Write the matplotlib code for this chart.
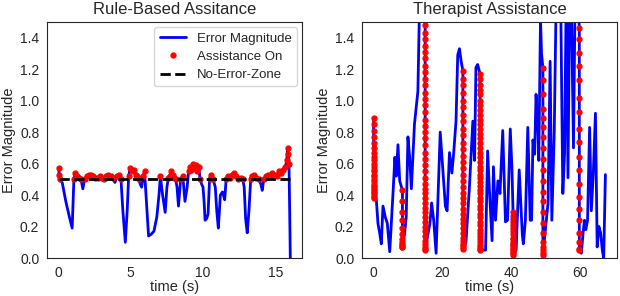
import matplotlib
matplotlib.use("Agg")
import matplotlib.pyplot as plt
import seaborn as sns
import numpy as np

# ---- Rule-based assistance (left) ----
t_rule = [0.0, 0.05, 0.1, 0.25, 0.5, 0.75, 0.94, 1.0, 1.06,
          1.15, 1.25, 1.4, 1.55, 1.68, 1.8, 1.95, 2.1, 2.25, 2.4, 2.55, 2.7, 2.85, 3.0,
          3.15, 3.3, 3.45, 3.6, 3.75, 3.9, 4.05, 4.2, 4.32,
          4.45, 4.62, 4.75, 4.85,
          4.95, 5.05, 5.15, 5.25, 5.35, 5.45, 5.55, 5.65, 5.75, 5.85, 5.95,
          6.05, 6.23, 6.4, 6.6, 6.8, 6.95, 7.05, 7.2, 7.38, 7.5, 7.6,
          7.7, 7.8, 7.9, 8.0, 8.1, 8.2, 8.3, 8.45, 8.6, 8.75, 8.9, 9.0, 9.1, 9.2,
          9.3, 9.4, 9.5, 9.6, 9.7, 9.8, 9.9, 10.0,
          10.08, 10.14, 10.25, 10.35, 10.45, 10.55, 10.7, 10.85, 10.95, 11.06, 11.2,
          11.35, 11.5, 11.6,
          11.7, 11.85, 12.0, 12.15, 12.3, 12.45, 12.6, 12.75, 12.85, 12.95, 13.06,
          13.18, 13.3,
          13.4, 13.55, 13.7, 13.85, 14.0, 14.1, 14.2, 14.35, 14.5, 14.65, 14.8, 14.95,
          15.1, 15.25, 15.4, 15.55, 15.7, 15.8, 15.85, 15.9, 15.95, 16.0, 16.05]
err_rule = [0.57, 0.53, 0.50, 0.48, 0.36, 0.26, 0.19, 0.35, 0.50,
            0.54, 0.52, 0.51, 0.50, 0.44, 0.50, 0.52, 0.53, 0.53, 0.52, 0.51, 0.51, 0.52, 0.51,
            0.50, 0.52, 0.53, 0.52, 0.51, 0.48, 0.52, 0.53, 0.50,
            0.30, 0.10, 0.30, 0.52,
            0.57, 0.56, 0.55, 0.56, 0.53, 0.52, 0.50, 0.47, 0.45, 0.52, 0.55,
            0.40, 0.14, 0.15, 0.17, 0.26, 0.40, 0.52, 0.40, 0.29, 0.45, 0.51,
            0.52, 0.55, 0.53, 0.51, 0.50, 0.45, 0.33, 0.50, 0.52, 0.36, 0.45, 0.55, 0.58, 0.56,
            0.60, 0.57, 0.59, 0.55, 0.58, 0.50, 0.47, 0.45,
            0.35, 0.24, 0.25, 0.28, 0.50, 0.53, 0.50, 0.45, 0.30, 0.19, 0.40,
            0.42, 0.37, 0.50,
            0.52, 0.51, 0.53, 0.54, 0.52, 0.50, 0.51, 0.50, 0.45, 0.25, 0.16,
            0.30, 0.50,
            0.52, 0.53, 0.51, 0.50, 0.47, 0.43, 0.50, 0.52, 0.53, 0.52, 0.54, 0.53,
            0.52, 0.55, 0.54, 0.56, 0.58, 0.62, 0.70, 0.66, 0.60, 0.30, -0.05]
no_error_level = 0.5

# ---- Therapist assistance (right) ----
t_ther = [0.0, 0.0, 0.8, 1.27, 1.76, 2.25, 2.73, 3.4, 4.0, 4.7, 5.7, 6.2, 6.6, 7.1, 7.6,
          8.4, 8.4, 9.0, 9.5, 10.0, 10.5, 11.0, 11.9, 12.9, 13.5, 14.2,
          15.0, 15.0, 16.4, 16.9, 17.5, 18.2, 19.4, 20.1, 20.9, 21.4, 22.1, 22.8, 23.3,
          24.0, 24.5, 25.0, 25.5,
          26.0, 26.0, 26.9, 27.9, 28.9, 29.4, 29.8, 30.3,
          31.0, 31.0, 32.6, 33.2, 33.8, 34.5, 34.9, 35.5, 36.2, 36.8, 37.6, 38.4, 39.0,
          39.8, 40.3,
          40.6, 40.6, 41.5, 42.4, 43.3, 43.6, 44.2, 44.9, 45.6, 46.0, 46.4, 46.9, 47.3,
          47.8, 48.1, 48.6, 48.9,
          49.3, 49.3, 50.3, 50.8, 51.4, 51.9, 52.6, 53.2, 53.8, 54.5, 55.1, 55.6, 56.1,
          56.6, 57.1, 57.6, 58.2, 58.7, 59.4,
          59.9, 59.9, 60.5, 61.0, 61.4, 61.8, 62.3, 62.9, 63.4, 64.0, 64.6, 65.1, 65.6,
          66.1, 66.6, 67.0, 67.5]
err_ther = [0.89, 0.38, 0.37, 0.22, 0.16, 0.09, 0.33, 0.26, 0.22, 0.04, 0.43, 0.64, 0.52, 0.72, 0.49,
            0.43, 0.07, 0.15, 0.26, 0.77, 0.64, 0.44, 0.85, 1.06, 1.75, 1.70,
            1.52, 0.05, 0.22, 0.35, 0.24, 0.03, 0.80, 0.58, 0.33, 0.30, 0.67, 0.54, 0.66,
            0.87, 1.29, 1.33, 1.25,
            1.19, 0.06, 0.10, 0.45, 0.87, 0.62, 1.21, 1.23,
            1.17, 0.05, 0.05, 0.68, 0.40, 0.11, 0.58, 0.24, 0.49, 0.41, 0.81, 0.23, 0.24,
            0.82, 0.56,
            0.29, 0.02, 0.05, 0.56, 0.15, 0.09, 0.24, 0.83, 0.24, 0.24, 0.75, 0.66, 1.04,
            0.87, 0.62, 1.52, 1.30,
            1.21, 0.02, 0.24, 0.35, 1.25, 0.24, 0.80, 1.70, 1.90, 1.60, 0.41, 0.66, 1.70,
            0.51, 1.70, 1.60, 0.70, 1.70, 1.70,
            1.46, 0.05, 0.03, 0.16, 0.24, 0.18, 0.24, 0.83, 0.30, 0.55, 0.92, 0.07, 0.20,
            0.16, 0.05, 0.00, 0.53]

# assistance-on samples, one column per therapist intervention
on_times = [0.0, 8.4, 15.0, 26.0, 31.0, 40.6, 49.3, 59.9]
on_errs = [
    [0.89, 0.85, 0.81, 0.77, 0.73, 0.70, 0.67, 0.64, 0.62, 0.60, 0.58, 0.56, 0.55, 0.53,
     0.52, 0.50, 0.49, 0.47, 0.46, 0.45, 0.44, 0.43, 0.42, 0.41, 0.40, 0.39, 0.38],
    [0.43, 0.36, 0.29, 0.24, 0.19, 0.15, 0.12, 0.10, 0.09, 0.08, 0.07, 0.07],
    [1.52, 1.48, 1.43, 1.39, 1.35, 1.31, 1.27, 1.22, 1.18, 1.14, 1.10, 1.05, 1.01, 0.97,
     0.93, 0.88, 0.84, 0.80, 0.76, 0.72, 0.67, 0.63, 0.59, 0.55, 0.51, 0.47, 0.44, 0.41,
     0.38, 0.35, 0.32, 0.29, 0.26, 0.23, 0.20, 0.17, 0.14, 0.11, 0.09, 0.07, 0.06, 0.05],
    [1.19, 1.14, 1.10, 1.05, 1.00, 0.96, 0.91, 0.87, 0.82, 0.78, 0.73, 0.69, 0.65, 0.61,
     0.57, 0.53, 0.49, 0.45, 0.41, 0.38, 0.35, 0.31, 0.28, 0.25, 0.22, 0.19, 0.16, 0.13,
     0.11, 0.09, 0.08, 0.07, 0.06],
    [1.17, 1.14, 1.10, 1.07, 1.04, 1.00, 0.97, 0.94, 0.91, 0.88, 0.85, 0.82, 0.79, 0.76,
     0.73, 0.70, 0.67, 0.64, 0.61, 0.58, 0.56, 0.53, 0.51, 0.48, 0.46, 0.43, 0.41, 0.38,
     0.36, 0.33, 0.31, 0.28, 0.26, 0.23, 0.21, 0.18, 0.16, 0.14, 0.12, 0.10, 0.08, 0.07,
     0.06, 0.05],
    [0.29, 0.27, 0.25, 0.23, 0.21, 0.19, 0.17, 0.15, 0.13, 0.12, 0.10, 0.09, 0.08, 0.07,
     0.06, 0.05, 0.04, 0.03, 0.02],
    [1.21, 1.13, 1.04, 0.95, 0.89, 0.83, 0.77, 0.70, 0.63, 0.56, 0.49, 0.42, 0.36, 0.29,
     0.22, 0.16, 0.10, 0.07, 0.05, 0.03, 0.02],
    [1.46, 1.39, 1.30, 1.22, 1.13, 1.02, 0.93, 0.82, 0.74, 0.64, 0.56, 0.47, 0.39, 0.31,
     0.24, 0.16, 0.10, 0.06, 0.05],
]

sns.set_style("white")
plt.rcParams['font.family'] = ['Liberation Sans', 'DejaVu Sans']
plt.rcParams['text.color'] = '.15'
plt.rcParams['axes.labelcolor'] = '.15'
plt.rcParams['xtick.color'] = '.15'
plt.rcParams['ytick.color'] = '.15'

fig = plt.figure(figsize=(6.2, 2.96), dpi=100)
ax1 = fig.add_axes([47 / 620, 38 / 296, 255 / 620, 236 / 296])
ax2 = fig.add_axes([362 / 620, 38 / 296, 255 / 620, 236 / 296])

t_rule = np.array(t_rule)
err_rule = np.array(err_rule)
on = err_rule >= no_error_level
ax1.plot(t_rule, err_rule, 'b-', lw=2.0, label='Error Magnitude')
ax1.plot(t_rule[on], err_rule[on], 'ro', ms=3.5, label='Assistance On')
ax1.plot(t_rule, [no_error_level] * len(t_rule), 'k--', lw=2.0, label='No-Error-Zone')
ax1.set_title('Rule-Based Assitance', fontsize=12)
ax1.legend(loc='upper right', fontsize=9.5, handlelength=2.0, labelspacing=0.45,
           borderaxespad=0.4)

ax2.plot(t_ther, err_ther, 'b-', lw=2.0)
for tc, col in zip(on_times, on_errs):
    ax2.plot([tc] * len(col), col, 'ro', ms=3.5)
ax2.set_title('Therapist Assistance', fontsize=12)

for ax in (ax1, ax2):
    ax.set_ylim(0, 1.5)
    ax.set_yticks([0.0, 0.2, 0.4, 0.6, 0.8, 1.0, 1.2, 1.4])
    ax.set_xlabel('time (s)', fontsize=10.5, labelpad=0)
    ax.set_ylabel('Error Magnitude', fontsize=10.5, labelpad=3)
    ax.tick_params(labelsize=10, pad=2)

plt.savefig('out.png', dpi=100)
